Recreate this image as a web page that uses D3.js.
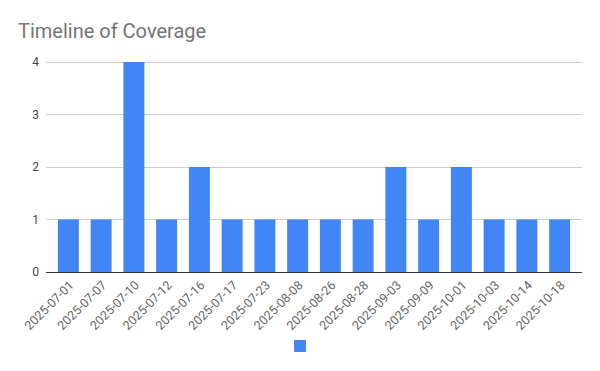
<!DOCTYPE html>
<html>
<head>
<meta charset="utf-8">
<script src="https://cdn.jsdelivr.net/npm/d3@7"></script>
<style>
  body { margin: 0; background: #fff; }
  text { font-family: Roboto, "Noto Sans", sans-serif; }
</style>
</head>
<body>
<div id="chart"></div>
<script>
var dates = ["2025-07-01", "2025-07-07", "2025-07-10", "2025-07-12", "2025-07-16", "2025-07-17",
             "2025-07-23", "2025-08-08", "2025-08-26", "2025-08-28", "2025-09-03", "2025-09-09",
             "2025-10-01", "2025-10-03", "2025-10-14", "2025-10-18"];
var counts = [1, 1, 4, 1, 2, 1, 1, 1, 1, 1, 2, 1, 2, 1, 1, 1];
var yTicks = [0, 1, 2, 3, 4];

var W = 600, H = 371;
var plotLeft = 46, plotRight = 582, plotTop = 62, plotBottom = 272;

var svg = d3.select("#chart").append("svg")
    .attr("width", W)
    .attr("height", H);

svg.append("text")
    .attr("x", 18)
    .attr("y", 38)
    .attr("fill", "#757575")
    .attr("font-size", 20)
    .text("Timeline of Coverage");

var x = d3.scaleBand()
    .domain(dates)
    .range([plotLeft + 6, plotRight - 6])
    .paddingInner(0.36)
    .paddingOuter(0.18);

var y = d3.scaleLinear()
    .domain([0, 4])
    .range([plotBottom, plotTop]);

// gridlines
svg.append("g")
    .selectAll("line")
    .data(yTicks.filter(function(d) { return d > 0; }))
    .enter()
    .append("line")
    .attr("x1", plotLeft)
    .attr("x2", plotRight)
    .attr("y1", function(d) { return y(d); })
    .attr("y2", function(d) { return y(d); })
    .attr("stroke", "#cccccc")
    .attr("stroke-width", 1)
    .attr("shape-rendering", "crispEdges");

// y labels
svg.append("g")
    .selectAll("text")
    .data(yTicks)
    .enter()
    .append("text")
    .attr("x", 39)
    .attr("y", function(d) { return y(d); })
    .attr("dy", "0.35em")
    .attr("text-anchor", "end")
    .attr("font-size", 12)
    .attr("fill", "#444")
    .text(function(d) { return d; });

// bars
svg.append("g")
    .selectAll("rect")
    .data(counts)
    .enter()
    .append("rect")
    .attr("x", function(d, i) { return x(dates[i]); })
    .attr("y", function(d) { return y(d); })
    .attr("width", x.bandwidth())
    .attr("height", function(d) { return y(0) - y(d); })
    .attr("fill", "#4285f4");

// baseline
svg.append("line")
    .attr("x1", plotLeft)
    .attr("x2", plotRight)
    .attr("y1", y(0))
    .attr("y2", y(0))
    .attr("stroke", "#333")
    .attr("stroke-width", 1)
    .attr("shape-rendering", "crispEdges");

// x labels
svg.append("g")
    .selectAll("text")
    .data(dates)
    .enter()
    .append("text")
    .attr("transform", function(d) {
        return "translate(" + (x(d) + x.bandwidth() / 2 + 3) + "," + (plotBottom + 11) + ") rotate(-45)";
    })
    .attr("text-anchor", "end")
    .attr("dy", "0.35em")
    .attr("font-size", 12.5)
    .attr("fill", "#666")
    .text(function(d) { return d; });

// legend
svg.append("rect")
    .attr("x", 294)
    .attr("y", 340)
    .attr("width", 12)
    .attr("height", 12)
    .attr("rx", 1)
    .attr("fill", "#4285f4");
</script>
</body>
</html>
